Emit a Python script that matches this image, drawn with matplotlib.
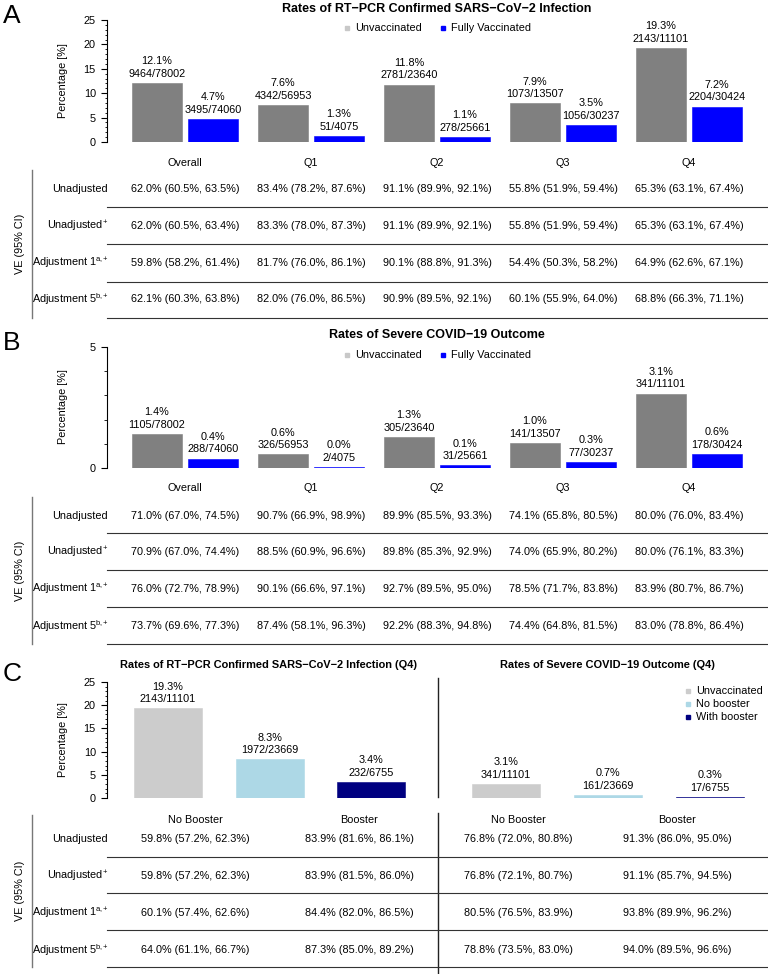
import numpy as np
import matplotlib
matplotlib.use('Agg')
import matplotlib.pyplot as plt
from matplotlib.ticker import MultipleLocator
from matplotlib.transforms import blended_transform_factory

plt.rcParams['font.family'] = ['Liberation Sans', 'DejaVu Sans']
plt.rcParams['mathtext.fontset'] = 'custom'
plt.rcParams['mathtext.rm'] = 'Liberation Sans'
plt.rcParams['mathtext.it'] = 'Liberation Sans:italic'
plt.rcParams['mathtext.bf'] = 'Liberation Sans:bold'

W, H = 768, 974
FS = 7.8

# ---- data ----
groups = ['Overall', 'Q1', 'Q2', 'Q3', 'Q4']
unvax_N = [78002, 56953, 23640, 13507, 11101]
vax_N = [74060, 4075, 25661, 30237, 30424]
inf_unvax_n = [9464, 4342, 2781, 1073, 2143]
inf_vax_n = [3495, 51, 278, 1056, 2204]
sev_unvax_n = [1105, 326, 305, 141, 341]
sev_vax_n = [288, 2, 31, 77, 178]

row_labels = ['Unadjusted', r'Unadjusted$^{\mathrm{+}}$',
              r'Adjustment 1$^{\mathrm{a,\!\!+}}$', r'Adjustment 5$^{\mathrm{b,\!\!+}}$']

ve_inf = [
    ['62.0% (60.5%, 63.5%)', '83.4% (78.2%, 87.6%)', '91.1% (89.9%, 92.1%)', '55.8% (51.9%, 59.4%)', '65.3% (63.1%, 67.4%)'],
    ['62.0% (60.5%, 63.4%)', '83.3% (78.0%, 87.3%)', '91.1% (89.9%, 92.1%)', '55.8% (51.9%, 59.4%)', '65.3% (63.1%, 67.4%)'],
    ['59.8% (58.2%, 61.4%)', '81.7% (76.0%, 86.1%)', '90.1% (88.8%, 91.3%)', '54.4% (50.3%, 58.2%)', '64.9% (62.6%, 67.1%)'],
    ['62.1% (60.3%, 63.8%)', '82.0% (76.0%, 86.5%)', '90.9% (89.5%, 92.1%)', '60.1% (55.9%, 64.0%)', '68.8% (66.3%, 71.1%)'],
]
ve_sev = [
    ['71.0% (67.0%, 74.5%)', '90.7% (66.9%, 98.9%)', '89.9% (85.5%, 93.3%)', '74.1% (65.8%, 80.5%)', '80.0% (76.0%, 83.4%)'],
    ['70.9% (67.0%, 74.4%)', '88.5% (60.9%, 96.6%)', '89.8% (85.3%, 92.9%)', '74.0% (65.9%, 80.2%)', '80.0% (76.1%, 83.3%)'],
    ['76.0% (72.7%, 78.9%)', '90.1% (66.6%, 97.1%)', '92.7% (89.5%, 95.0%)', '78.5% (71.7%, 83.8%)', '83.9% (80.7%, 86.7%)'],
    ['73.7% (69.6%, 77.3%)', '87.4% (58.1%, 96.3%)', '92.2% (88.3%, 94.8%)', '74.4% (64.8%, 81.5%)', '83.0% (78.8%, 86.4%)'],
]

c_labels = ['Unvaccinated', 'No booster', 'With booster']
c_N = [11101, 23669, 6755]
c_inf_n = [2143, 1972, 232]
c_sev_n = [341, 161, 17]
c_cols = ['No Booster', 'Booster', 'No Booster', 'Booster']
ve_c = [
    ['59.8% (57.2%, 62.3%)', '83.9% (81.6%, 86.1%)', '76.8% (72.0%, 80.8%)', '91.3% (86.0%, 95.0%)'],
    ['59.8% (57.2%, 62.3%)', '83.9% (81.5%, 86.0%)', '76.8% (72.1%, 80.7%)', '91.1% (85.7%, 94.5%)'],
    ['60.1% (57.4%, 62.6%)', '84.4% (82.0%, 86.5%)', '80.5% (76.5%, 83.9%)', '93.8% (89.9%, 96.2%)'],
    ['64.0% (61.1%, 66.7%)', '87.3% (85.0%, 89.2%)', '78.8% (73.5%, 83.0%)', '94.0% (89.5%, 96.6%)'],
]

GRAY = '#808080'
BLUE = '#0000FF'
C_COLORS = ['#CCCCCC', '#ADD8E6', '#000080']

fig = plt.figure(figsize=(W / 100, H / 100), dpi=100)
ov = fig.add_axes([0, 0, 1, 1], zorder=-1)
ov.set_xlim(0, W)
ov.set_ylim(H, 0)
ov.axis('off')


def px_axes(x0, y0, x1, y1):
    ax = fig.add_axes([x0 / W, 1 - y1 / H, (x1 - x0) / W, (y1 - y0) / H])
    ax.patch.set_alpha(0)
    for s in ['top', 'right', 'bottom']:
        ax.spines[s].set_visible(False)
    ax.tick_params(axis='x', length=0, labelbottom=False)
    ax.tick_params(axis='y', which='major', length=4, pad=4, labelsize=FS, width=0.8)
    ax.tick_params(axis='y', which='minor', length=1.6, width=0.6)
    ax.spines['left'].set_linewidth(0.8)
    return ax


def bars(ax, xs, ns, Ns, width, colors):
    hs = [100 * n / N for n, N in zip(ns, Ns)]
    ax.bar(xs, hs, width, color=colors, edgecolor=colors, linewidth=0.4)
    for x, h, n, N in zip(xs, hs, ns, Ns):
        ax.annotate(f'{h:.1f}%\n{n}/{N}', xy=(x, h), xytext=(0, 3),
                    textcoords='offset points', ha='center', va='bottom',
                    fontsize=FS, linespacing=1.3, annotation_clip=False)


def ve_table(trans, cols_x, cat_y, cat_labels, rows_y, lines_y, data, vtop):
    for x, lab in zip(cols_x, cat_labels):
        ov.text(x, cat_y, lab, transform=trans, ha='center', va='center', fontsize=FS)
    for r, (y, lab) in enumerate(zip(rows_y, row_labels)):
        ov.text(108, y, lab, ha='right', va='center', fontsize=FS)
        for x, s in zip(cols_x, data[r]):
            ov.text(x, y, s, transform=trans, ha='center', va='center', fontsize=FS)
    for y in lines_y:
        ov.plot([107, W], [y, y], color='#333333', lw=0.8)
    ov.plot([32, 32], [vtop, lines_y[-1]], color='#777777', lw=1)
    ov.text(20, (vtop + lines_y[-1]) / 2, 'VE (95% CI)', rotation=90,
            ha='center', va='center', fontsize=FS)


def legend(items, x, ys, colors):
    for (lab, c, xx, yy) in zip(items, colors, x, ys):
        ov.plot([xx], [yy], marker='s', ms=3.5, color=c, mec=c)
        ov.text(xx + 8, yy, lab, ha='left', va='center', fontsize=FS)


xg = np.arange(len(groups))
off, bw = 0.222, 0.397

# ---- Panel A ----
axA = px_axes(107, 20, W, 142)
axA.set_xlim(-0.619, 4.627)
axA.set_ylim(0, 25)
bars(axA, xg - off, inf_unvax_n, unvax_N, bw, GRAY)
bars(axA, xg + off, inf_vax_n, vax_N, bw, BLUE)
axA.yaxis.set_major_locator(MultipleLocator(5))
axA.yaxis.set_minor_locator(MultipleLocator(1))
ov.text(12, 16, 'A', fontsize=19, ha='center', va='center')
ov.text(437, 9, 'Rates of RT\u2212PCR Confirmed SARS\u2212CoV\u22122 Infection',
        ha='center', va='center', fontsize=9.0, fontweight='bold')
legend(['Unvaccinated', 'Fully Vaccinated'], [347, 443], [28, 28], ['#C8C8C8', BLUE])
ov.text(63, 81, 'Percentage [%]', rotation=90, ha='center', va='center', fontsize=FS)
tA = blended_transform_factory(axA.transData, ov.transData)
ve_table(tA, xg, 163, groups, [189, 226, 263, 299], [207, 244, 282, 318], ve_inf, 170)

# ---- Panel B ----
axB = px_axes(107, 347, W, 468)
axB.set_xlim(-0.619, 4.627)
axB.set_ylim(0, 5)
bars(axB, xg - off, sev_unvax_n, unvax_N, bw, GRAY)
bars(axB, xg + off, sev_vax_n, vax_N, bw, BLUE)
axB.yaxis.set_major_locator(MultipleLocator(5))
axB.yaxis.set_minor_locator(MultipleLocator(1))
axB.tick_params(axis='y', which='minor', length=2.4)
ov.text(12, 343, 'B', fontsize=19, ha='center', va='center')
ov.text(437, 335, 'Rates of Severe COVID\u221219 Outcome',
        ha='center', va='center', fontsize=9.0, fontweight='bold')
legend(['Unvaccinated', 'Fully Vaccinated'], [347, 443], [355, 355], ['#C8C8C8', BLUE])
ov.text(63, 407, 'Percentage [%]', rotation=90, ha='center', va='center', fontsize=FS)
tB = blended_transform_factory(axB.transData, ov.transData)
ve_table(tB, xg, 488, groups, [516, 552, 589, 626], [533, 570, 607, 644], ve_sev, 497)

# ---- Panel C ----
xc = np.arange(len(c_labels))
axC1 = px_axes(107, 682, 438, 798)
axC1.set_xlim(-0.601, 2.66)
axC1.set_ylim(0, 25)
bars(axC1, xc, c_inf_n, c_N, 0.67, C_COLORS)
axC1.yaxis.set_major_locator(MultipleLocator(5))
axC1.yaxis.set_minor_locator(MultipleLocator(1))

axC2 = px_axes(438, 682, W, 798)
axC2.set_xlim(-0.667, 2.569)
axC2.set_ylim(0, 25)
axC2.spines['left'].set_visible(False)
axC2.tick_params(axis='y', which='both', length=0, labelleft=False)
bars(axC2, xc, c_sev_n, c_N, 0.67, C_COLORS)

ov.text(12, 674, 'C', fontsize=19, ha='center', va='center')
ov.text(269, 665, 'Rates of RT\u2212PCR Confirmed SARS\u2212CoV\u22122 Infection (Q4)',
        ha='center', va='center', fontsize=7.9, fontweight='bold')
ov.text(607, 665, 'Rates of Severe COVID\u221219 Outcome (Q4)',
        ha='center', va='center', fontsize=7.9, fontweight='bold')
legend(c_labels, [688, 688, 688], [691, 704, 717], C_COLORS)
ov.text(63, 740, 'Percentage [%]', rotation=90, ha='center', va='center', fontsize=FS)
ov.plot([438, 438], [678, 797], color='#222222', lw=1)
ov.plot([438, 438], [813, H], color='#222222', lw=1)
ve_table(ov.transData, [195, 359, 518, 677], 820, c_cols,
         [839, 876, 913, 950], [857, 893, 930, 967], ve_c, 815)

fig.savefig('out.png', dpi=100)
